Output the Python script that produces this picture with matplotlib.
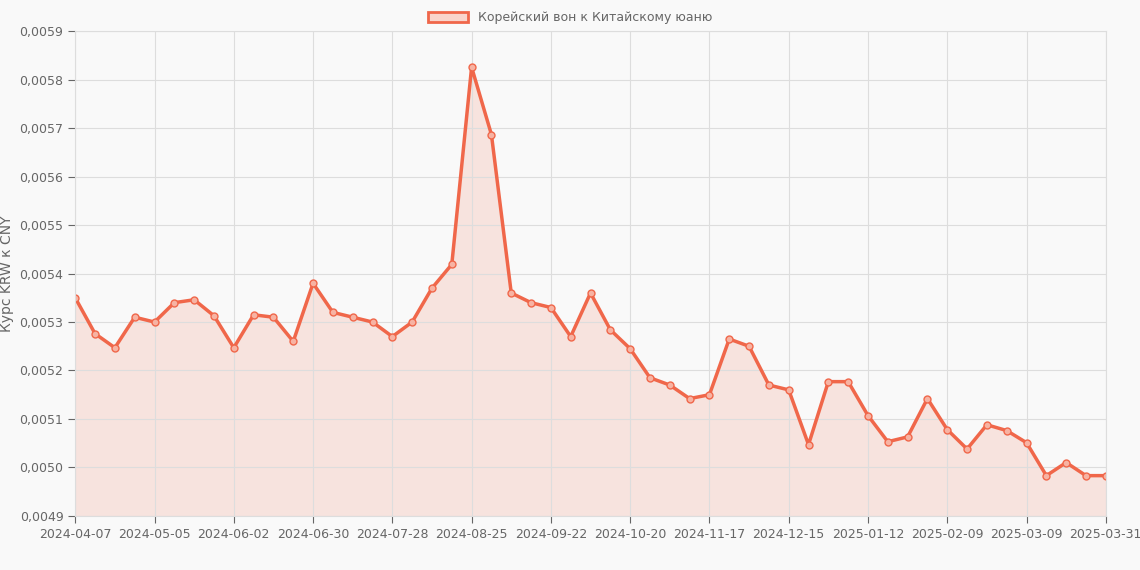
import matplotlib.pyplot as plt
from matplotlib.patches import Patch
from matplotlib.ticker import FuncFormatter

values = [0.00535, 0.005276, 0.005247, 0.00531, 0.00530, 0.00534, 0.005346, 0.005313,
          0.005247, 0.005315, 0.00531, 0.00526, 0.00538, 0.00532, 0.00531, 0.00530,
          0.00527, 0.00530, 0.00537, 0.005419, 0.005826, 0.005687, 0.00536, 0.00534,
          0.00533, 0.00527, 0.00536, 0.005284, 0.005245, 0.005185, 0.00517, 0.005142,
          0.00515, 0.005265, 0.00525, 0.00517, 0.00516, 0.005047, 0.005177, 0.005177,
          0.005107, 0.005053, 0.005063, 0.005142, 0.005078, 0.005038, 0.005088, 0.005076,
          0.005051, 0.004983, 0.00501, 0.004983, 0.004983]
tick_labels = ["2024-04-07", "2024-05-05", "2024-06-02", "2024-06-30", "2024-07-28",
               "2024-08-25", "2024-09-22", "2024-10-20", "2024-11-17", "2024-12-15",
               "2025-01-12", "2025-02-09", "2025-03-09", "2025-03-31"]
tick_pos = [0, 4, 8, 12, 16, 20, 24, 28, 32, 36, 40, 44, 48, 52]

line_c = '#f0674a'
bg = '#f9f9f9'
txt = '#666666'

fig = plt.figure(figsize=(11.4, 5.7), dpi=100, facecolor=bg)
ax = fig.add_axes([0.066, 0.095, 0.904, 0.85], facecolor=bg)
x = list(range(len(values)))
ax.fill_between(x, values, 0.0049, color=line_c, alpha=0.15, linewidth=0)
ax.plot(x, values, color=line_c, linewidth=2.5, marker='o', markersize=5,
        markerfacecolor='#f7b3a3', markeredgecolor=line_c, markeredgewidth=1)
ax.set_xlim(0, 52)
ax.set_ylim(0.0049, 0.0059)
ax.set_yticks([0.0049 + i * 0.0001 for i in range(11)])
ax.yaxis.set_major_formatter(FuncFormatter(lambda v, p: f"{v:.4f}".replace('.', ',')))
ax.set_xticks(tick_pos)
ax.set_xticklabels(tick_labels)
ax.tick_params(colors=txt, labelsize=9, length=5)
for t in ax.get_xticklines() + ax.get_yticklines():
    t.set_color('#dddddd')
ax.grid(color='#dddddd', linewidth=0.8)
for s in ax.spines.values():
    s.set_color('#dddddd')
ax.set_ylabel('Курс KRW к CNY', color=txt, fontsize=10)
fig.legend(handles=[Patch(facecolor='#f9d5cc', edgecolor=line_c, linewidth=2,
                          label='Корейский вон к Китайскому юаню')],
           loc='upper center', bbox_to_anchor=(0.5, 1.0), frameon=False,
           fontsize=9, labelcolor=txt, handlelength=3.2, handleheight=0.9)
fig.savefig('out.png', facecolor=bg)
